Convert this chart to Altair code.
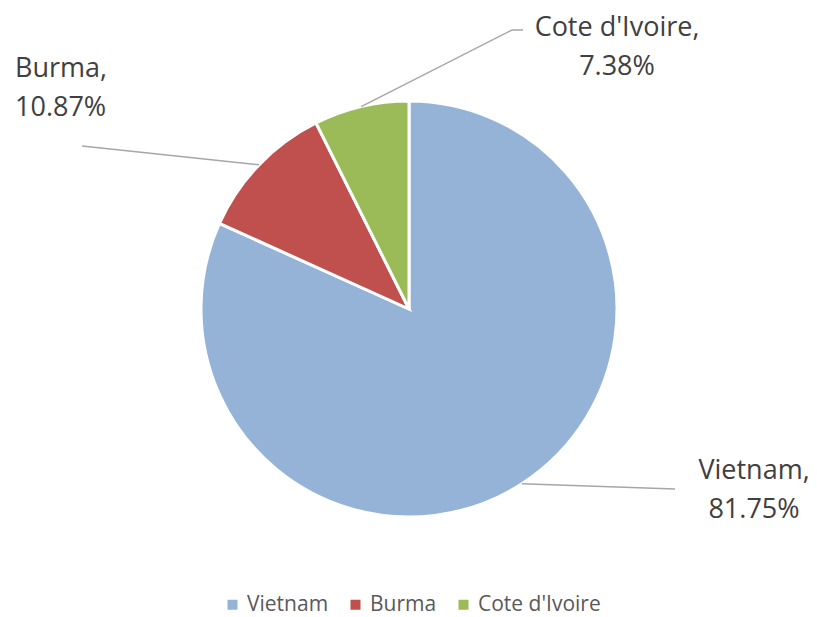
import math
import altair as alt
import pandas as pd

# ---- data ----
countries = ["Vietnam", "Burma", "Cote d'Ivoire"]
shares = [81.75, 10.87, 7.38]
label_lines_1 = ["Vietnam,", "Burma,", "Cote d'Ivoire,"]
label_lines_2 = ["81.75%", "10.87%", "7.38%"]
colors = ["#95B3D7", "#C0504D", "#9BBB59"]

# ---- layout (pixels in chart coordinates) ----
W, H = 801, 609
CX, CY, R = 401, 301, 208
label_x = [746, 7, 609]
label_y = [471, 69, 28]
label_align = ["center", "left", "center"]
# leader line elbow / end points on label side
leader_ends = [[(667, 481)], [(74, 138)], [(504, 22), (515, 22)]]

pie_df = pd.DataFrame({"country": countries, "share": shares, "idx": list(range(len(countries)))})

# leader line segments: start at slice mid-angle on the rim
segs = []
total = sum(shares)
cum = 0.0
for i, s in enumerate(shares):
    mid = (cum + s / 2) / total * 2 * math.pi
    cum += s
    px, py = CX + R * math.sin(mid), CY - R * math.cos(mid)
    for ex, ey in leader_ends[i]:
        segs.append({"x": px, "y": py, "x2": ex, "y2": ey})
        px, py = ex, ey
seg_df = pd.DataFrame(segs)

lab_df = pd.DataFrame({
    "text": [a + "\n" + b for a, b in zip(label_lines_1, label_lines_2)],
    "x": label_x, "y": label_y, "align": label_align,
})

pie = alt.Chart(pie_df).mark_arc(radius=R, stroke="white", strokeWidth=3).encode(
    theta=alt.Theta("share:Q", stack=True),
    color=alt.Color("country:N", scale=alt.Scale(domain=countries, range=colors),
                    sort=countries,
                    legend=alt.Legend(title=None, orient="none", direction="horizontal",
                                      legendX=214, legendY=586, symbolType="square",
                                      symbolSize=100, symbolStrokeWidth=0,
                                      labelFont="Open Sans", labelFontSize=21,
                                      labelColor="#595959", columnPadding=16,
                                      labelOffset=4)),
    order=alt.Order("idx:Q"),
    x=alt.value(CX), y=alt.value(CY),
)

leaders = alt.Chart(seg_df).mark_rule(color="#A6A6A6", strokeWidth=1.5).encode(
    x=alt.X("x:Q", scale=None), y=alt.Y("y:Q", scale=None),
    x2="x2:Q", y2="y2:Q",
)

texts = []
for al in ["center", "left"]:
    sub = lab_df[lab_df["align"] == al]
    texts.append(alt.Chart(sub).mark_text(
        align=al, baseline="alphabetic", font="Open Sans", fontSize=27,
        color="#404040", lineBreak="\n", lineHeight=39,
    ).encode(x=alt.X("x:Q", scale=None), y=alt.Y("y:Q", scale=None), text="text:N"))

chart = alt.layer(pie, leaders, *texts).properties(
    width=W, height=H, padding=0, autosize="none",
).configure_view(stroke=None)

chart.save("out.html", embed_options={"renderer": "svg", "actions": False})
